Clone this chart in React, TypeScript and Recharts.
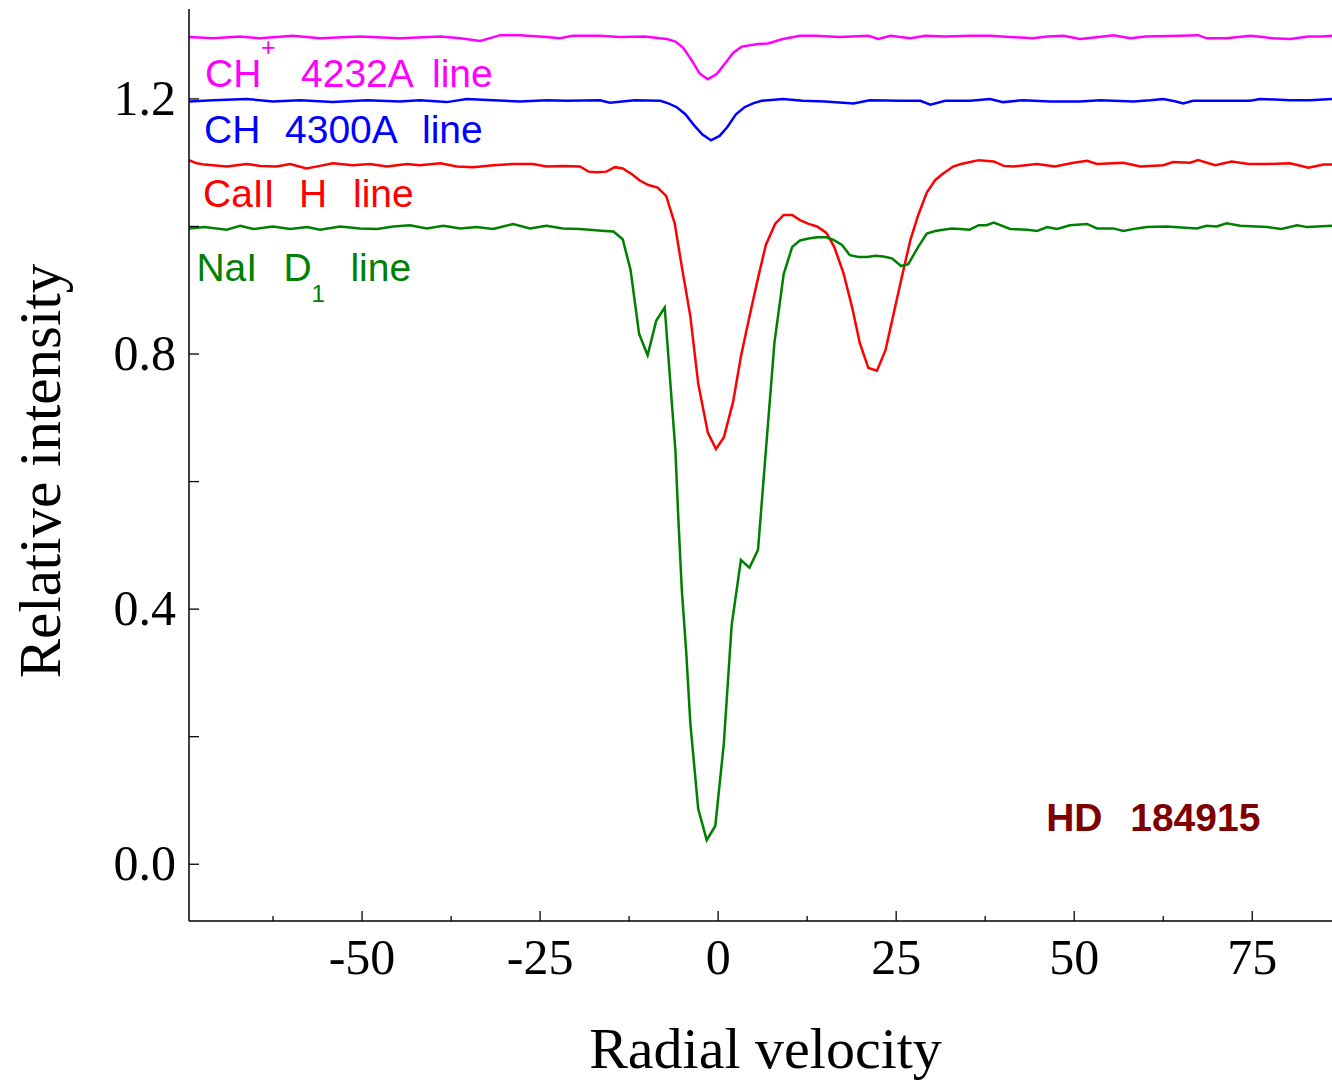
import { LineChart, Line, XAxis, YAxis, ReferenceDot } from 'recharts'

const SERIF = '"Liberation Serif", "Times New Roman", serif'
const SANS = '"Liberation Sans", Arial, sans-serif'

// CH+ 4232 A
const chPlusVel = [-74.3, -70.9, -67.1, -64.3, -59.7, -55.9, -50.3, -44.7, -39.0, -36.2, -33.4, -30.6, -27.8, -24.1, -22.2, -20.4, -18.7, -16.6, -13.8, -10.3, -8.2, -7.2, -6.0, -4.9, -3.8, -2.6, -1.45, -0.2, 1.0, 2.1, 3.3, 5.6, 7.0, 9.1, 11.5, 13.6, 17.1, 21.1, 22.5, 24.2, 27.0, 29.1, 31.9, 35.4, 38.2, 44.2, 46.2, 48.5, 50.8, 54.1, 55.5, 57.9, 60.0, 64.9, 67.4, 68.6, 71.4, 74.7, 76.5, 77.9, 80.3, 82.9, 84.8, 86.2]
const chPlusInt = [1.297, 1.295, 1.298, 1.295, 1.299, 1.295, 1.298, 1.295, 1.298, 1.295, 1.291, 1.300, 1.300, 1.297, 1.295, 1.299, 1.299, 1.299, 1.297, 1.298, 1.295, 1.294, 1.290, 1.280, 1.262, 1.240, 1.231, 1.239, 1.256, 1.272, 1.282, 1.286, 1.287, 1.294, 1.299, 1.299, 1.297, 1.299, 1.294, 1.299, 1.295, 1.299, 1.298, 1.299, 1.299, 1.295, 1.298, 1.299, 1.294, 1.298, 1.300, 1.295, 1.298, 1.299, 1.300, 1.295, 1.295, 1.299, 1.297, 1.295, 1.294, 1.298, 1.298, 1.299]

// CH 4300 A
const chVel = [-74.3, -70.9, -66.2, -62.5, -58.7, -54.1, -49.3, -44.7, -41.9, -38.1, -35.3, -31.6, -27.8, -24.1, -21.3, -16.6, -15.2, -11.7, -8.1, -7.0, -5.8, -4.6, -3.4, -2.2, -1.0, 0.2, 1.3, 2.5, 3.7, 4.9, 6.1, 9.1, 11.9, 15.0, 19.0, 21.3, 25.6, 28.4, 29.8, 31.9, 35.4, 38.2, 40.0, 42.8, 46.6, 50.8, 53.7, 58.3, 60.7, 62.5, 64.3, 65.3, 66.7, 70.5, 74.7, 76.1, 80.3, 83.1, 86.2]
const chInt = [1.196, 1.198, 1.200, 1.196, 1.198, 1.195, 1.198, 1.196, 1.198, 1.195, 1.200, 1.198, 1.196, 1.198, 1.197, 1.198, 1.194, 1.198, 1.197, 1.193, 1.187, 1.176, 1.159, 1.144, 1.135, 1.142, 1.156, 1.176, 1.187, 1.193, 1.197, 1.200, 1.197, 1.196, 1.193, 1.198, 1.197, 1.197, 1.191, 1.197, 1.197, 1.200, 1.195, 1.198, 1.196, 1.196, 1.198, 1.196, 1.198, 1.200, 1.196, 1.193, 1.197, 1.197, 1.197, 1.200, 1.198, 1.198, 1.200]

// CaII H
const caVel = [-74.3, -73.2, -72.1, -69.0, -66.2, -64.3, -62.0, -60.1, -57.8, -55.9, -54.1, -51.3, -48.9, -46.5, -43.7, -41.9, -39.0, -36.7, -34.4, -31.6, -28.8, -26.0, -24.1, -21.8, -19.4, -18.2, -17.0, -15.7, -14.5, -13.4, -12.1, -11.0, -9.8, -8.5, -7.3, -6.1, -5.1, -3.9, -2.8, -1.45, -0.3, 0.8, 2.1, 3.2, 4.4, 5.6, 6.7, 8.0, 9.2, 10.4, 11.5, 12.7, 13.9, 15.2, 16.3, 17.6, 18.8, 19.9, 21.1, 22.3, 23.5, 24.6, 25.8, 27.0, 28.1, 29.3, 30.5, 31.6, 33.0, 34.1, 35.4, 36.6, 38.7, 40.1, 41.5, 44.8, 47.3, 49.9, 51.8, 53.2, 56.9, 59.3, 62.5, 63.9, 66.3, 67.4, 69.8, 72.1, 74.5, 77.1, 80.3, 82.9, 85.0, 86.2]
const caInt = [1.104, 1.099, 1.097, 1.094, 1.098, 1.095, 1.094, 1.098, 1.091, 1.095, 1.099, 1.096, 1.098, 1.094, 1.098, 1.096, 1.099, 1.094, 1.093, 1.096, 1.098, 1.098, 1.094, 1.095, 1.094, 1.086, 1.085, 1.086, 1.093, 1.091, 1.082, 1.072, 1.065, 1.061, 1.048, 1.005, 0.937, 0.859, 0.754, 0.677, 0.651, 0.669, 0.725, 0.796, 0.859, 0.919, 0.971, 1.004, 1.018, 1.018, 1.010, 1.004, 1.000, 0.990, 0.968, 0.927, 0.874, 0.817, 0.778, 0.774, 0.806, 0.861, 0.921, 0.979, 1.018, 1.053, 1.073, 1.083, 1.094, 1.098, 1.101, 1.104, 1.102, 1.095, 1.094, 1.098, 1.094, 1.100, 1.103, 1.098, 1.100, 1.094, 1.096, 1.101, 1.100, 1.104, 1.096, 1.102, 1.098, 1.098, 1.099, 1.092, 1.097, 1.097]

// NaI D1
const naVel = [-74.3, -72.1, -69.0, -67.1, -65.3, -62.5, -60.1, -57.7, -55.9, -53.1, -50.3, -47.9, -45.6, -43.3, -40.9, -38.6, -36.2, -33.9, -31.6, -28.8, -26.4, -24.1, -21.8, -19.4, -15.9, -14.7, -13.4, -12.3, -11.1, -9.9, -8.7, -7.5, -6.0, -5.6, -5.1, -4.5, -3.9, -2.8, -1.6, -0.4, 0.8, 1.9, 3.2, 4.4, 5.6, 7.9, 9.2, 10.4, 11.5, 12.7, 13.9, 15.2, 16.2, 17.4, 18.5, 19.7, 20.9, 22.1, 23.2, 24.4, 25.7, 26.7, 28.1, 29.3, 30.5, 31.6, 32.8, 34.0, 35.3, 36.6, 37.7, 38.7, 41.0, 43.4, 44.8, 46.2, 47.6, 49.4, 51.8, 53.2, 55.5, 56.9, 58.8, 60.2, 63.0, 67.2, 68.6, 70.0, 71.4, 73.3, 77.1, 79.1, 81.3, 82.7, 84.1, 86.2]
const naInt = [0.997, 0.999, 0.995, 1.001, 0.996, 1.000, 0.996, 0.999, 0.995, 1.000, 0.997, 0.996, 1.000, 1.002, 0.997, 1.001, 0.997, 0.999, 0.996, 1.004, 0.997, 1.001, 0.997, 0.996, 0.993, 0.992, 0.980, 0.932, 0.832, 0.798, 0.852, 0.873, 0.649, 0.545, 0.430, 0.336, 0.221, 0.087, 0.038, 0.060, 0.189, 0.375, 0.477, 0.465, 0.493, 0.817, 0.925, 0.968, 0.978, 0.981, 0.983, 0.983, 0.979, 0.971, 0.955, 0.952, 0.952, 0.954, 0.953, 0.950, 0.938, 0.941, 0.968, 0.989, 0.993, 0.995, 0.997, 0.996, 0.995, 1.002, 1.002, 1.006, 0.996, 0.995, 0.993, 0.999, 0.996, 1.002, 1.004, 0.997, 0.997, 0.993, 0.997, 0.999, 1.000, 0.997, 1.001, 1.000, 1.005, 1.001, 0.999, 0.996, 1.002, 0.999, 1.000, 1.001]

const xTicks = [-62.5, -50, -37.5, -25, -12.5, 0, 12.5, 25, 37.5, 50, 62.5, 75]
const xLabelled = [-50, -25, 0, 25, 50, 75]
const yTicks = [0, 0.2, 0.4, 0.6, 0.8, 1.0, 1.2]
const yLabelled = [0, 0.4, 0.8, 1.2]

const zip = (vel: number[], inten: number[]) =>
  vel.slice(0, inten.length).map((v, k) => ({ v, i: inten[k] }))

const series = [
  { key: 'chp', color: '#ff00ff', data: zip(chPlusVel, chPlusInt) },
  { key: 'ch', color: '#0000ff', data: zip(chVel, chInt) },
  { key: 'ca', color: '#ff0000', data: zip(caVel, caInt) },
  { key: 'na', color: '#008000', data: zip(naVel, naInt) },
]

type Part = { t: string; dx: number; dy?: number; size?: number }
type Note = { v: number; i: number; color: string; size: number; bold?: boolean; parts: Part[] }

const notes: Note[] = [
  {
    v: -72.05, i: 1.2188, color: '#ff00ff', size: 39,
    parts: [{ t: 'CH', dx: 0 }, { t: '+', dx: 56, dy: -31, size: 25 }, { t: '4232A', dx: 96 }, { t: 'line', dx: 227 }],
  },
  {
    v: -72.19, i: 1.131, color: '#0000ff', size: 39,
    parts: [{ t: 'CH', dx: 0 }, { t: '4300A', dx: 81 }, { t: 'line', dx: 218 }],
  },
  {
    v: -72.33, i: 1.0306, color: '#ff0000', size: 39,
    parts: [{ t: 'CaII', dx: 0 }, { t: 'H', dx: 96 }, { t: 'line', dx: 150 }],
  },
  {
    v: -73.26, i: 0.9145, color: '#008000', size: 39,
    parts: [{ t: 'NaI', dx: 0 }, { t: 'D', dx: 87 }, { t: '1', dx: 115, dy: 21, size: 24 }, { t: 'line', dx: 154 }],
  },
  {
    v: 46.07, i: 0.0518, color: '#800000', size: 39, bold: true,
    parts: [{ t: 'HD', dx: 0 }, { t: '184915', dx: 84 }],
  },
]

function NoteText({ cx, cy, note }: { cx: number; cy: number; note: Note }) {
  return (
    <text fill={note.color} fontFamily={SANS} fontWeight={note.bold ? 700 : 400}>
      {note.parts.map((p, k) => (
        <tspan key={k} x={cx + p.dx} y={cy + (p.dy ?? 0)} style={{ fontSize: p.size ?? note.size }}>
          {p.t}
        </tspan>
      ))}
    </text>
  )
}

function BottomTick({ x, y, payload }: any) {
  const major = xLabelled.includes(payload.value)
  return (
    <g>
      <line x1={x} y1={y} x2={x} y2={y - (major ? 10 : 5)} stroke="#000" strokeWidth={1.3} />
      {major && (
        <text x={x} y={y + 53} textAnchor="middle" fontFamily={SERIF} fontSize={50} fill="#000">
          {payload.value}
        </text>
      )}
    </g>
  )
}

function TopTick({ x, y, payload }: any) {
  const major = xLabelled.includes(payload.value)
  return <line x1={x} y1={y} x2={x} y2={y + (major ? 10 : 5)} stroke="#000" strokeWidth={1.3} />
}

function LeftTick({ x, y, payload }: any) {
  const labelled = yLabelled.some((t) => Math.abs(t - payload.value) < 1e-6)
  return (
    <g>
      <line x1={x} y1={y} x2={x + 10} y2={y} stroke="#000" strokeWidth={1.3} />
      {labelled && (
        <text x={x - 13} y={y + 16} textAnchor="end" fontFamily={SERIF} fontSize={50} fill="#000">
          {payload.value.toFixed(1)}
        </text>
      )}
    </g>
  )
}

function XTitle(props: any) {
  const vb = props.viewBox
  return (
    <text x={vb.x + vb.width / 2 + 5} y={vb.y + 147} textAnchor="middle" fontFamily={SERIF} fontSize={58} fill="#000">
      Radial velocity
    </text>
  )
}

function YTitle(props: any) {
  const vb = props.viewBox
  const cx = vb.x + 60
  const cy = vb.y + vb.height / 2 + 6
  return (
    <text x={cx} y={cy} transform={`rotate(-90 ${cx} ${cy})`} textAnchor="middle" fontFamily={SERIF} fontSize={59} fill="#000">
      Relative intensity
    </text>
  )
}

export default function App() {
  const axisLine = { stroke: '#000', strokeWidth: 1.5 }
  return (
    <div style={{ position: 'absolute', left: 0, top: 0, width: 1332, height: 1081, background: '#fff' }}>
      <LineChart width={1332} height={1081} margin={{ top: 9, right: 0, bottom: 0, left: 0 }}>
        <XAxis
          xAxisId="b"
          type="number"
          dataKey="v"
          domain={[-74.3, 86.2]}
          allowDataOverflow
          ticks={xTicks}
          interval={0}
          orientation="bottom"
          height={160}
          tickSize={0}
          tickMargin={0}
          tick={<BottomTick />}
          axisLine={axisLine}
          label={{ content: <XTitle /> }}
        />
        <XAxis
          xAxisId="t"
          type="number"
          dataKey="v"
          domain={[-74.3, 86.2]}
          allowDataOverflow
          ticks={xTicks}
          interval={0}
          orientation="top"
          height={0}
          tickSize={0}
          tickMargin={0}
          tick={<TopTick />}
          axisLine={axisLine}
        />
        <YAxis
          type="number"
          domain={[-0.089, 1.341]}
          allowDataOverflow
          ticks={yTicks}
          interval={0}
          width={189}
          tickSize={0}
          tickMargin={0}
          tick={<LeftTick />}
          axisLine={axisLine}
          label={{ content: <YTitle /> }}
        />
        {series.map((s) => (
          <Line
            key={s.key}
            xAxisId="b"
            data={s.data}
            dataKey="i"
            type="linear"
            stroke={s.color}
            strokeWidth={2.5}
            dot={false}
            activeDot={false}
            isAnimationActive={false}
          />
        ))}
        {notes.map((n, k) => (
          <ReferenceDot
            key={k}
            xAxisId="b"
            x={n.v}
            y={n.i}
            r={0}
            ifOverflow="visible"
            shape={(p: any) => <NoteText cx={p.cx} cy={p.cy} note={n} />}
          />
        ))}
      </LineChart>
    </div>
  )
}
